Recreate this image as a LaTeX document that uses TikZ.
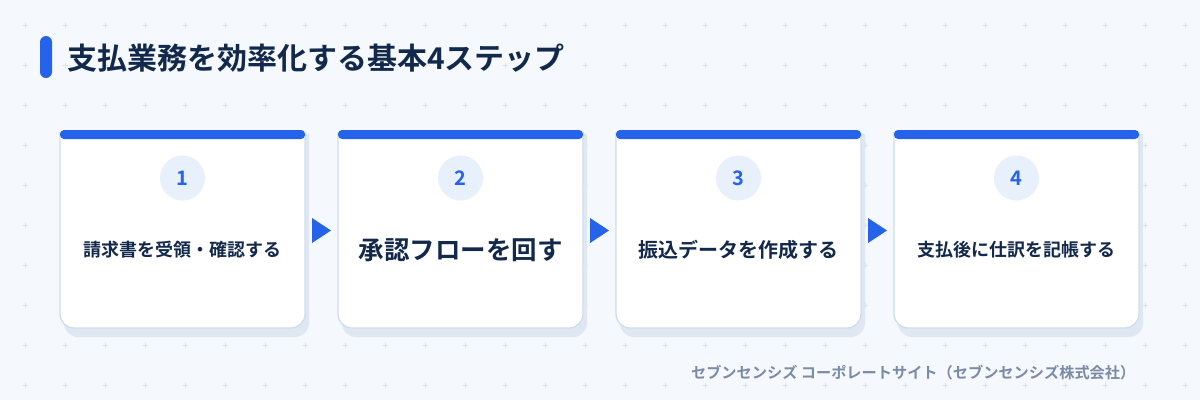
\documentclass[tikz,border=0pt]{standalone}
\usepackage{fontspec}
\setmainfont{Noto Sans CJK JP}[BoldFont={* Bold}]
\usetikzlibrary{calc}
\definecolor{bg}{HTML}{F5F8FD}
\definecolor{accent}{HTML}{2563EB}
\definecolor{ink}{HTML}{13294B}
\definecolor{cardline}{HTML}{CFDCEE}
\definecolor{shadowc}{HTML}{DFE7F3}
\definecolor{badge}{HTML}{E8F0FC}
\definecolor{plusc}{HTML}{DAE2EE}
\definecolor{foot}{HTML}{7B8BA5}
\tikzset{
  cardanchor/.style={draw=none, inner sep=0, minimum width=245pt, minimum height=198pt},
  badgenode/.style={circle, fill=badge, minimum size=45pt, inner sep=0, text=accent, font=\bfseries\fontsize{20}{24}\selectfont},
  cardtext/.style={inner sep=0, text=ink},
  flowarrow/.style={fill=accent},
}
\begin{document}
\begin{tikzpicture}[x=1pt,y=-1pt]
\fill[bg] (0,0) rectangle (1200,400);
\useasboundingbox (0,0) rectangle (1200,400);
% background plus grid
\foreach \i in {0,...,29}{
  \foreach \j in {0,...,9}{
    \draw[plusc, line width=0.9pt] ({25+40*\i-2.5},{25+40*\j}) -- ++(5,0)
      ({25+40*\i},{25+40*\j-2.5}) -- ++(0,5);
  }
}
% title
\fill[accent, rounded corners=6pt] (40,36) rectangle (52,78);
\node[anchor=west, inner sep=0, text=ink, font=\bfseries\fontsize{30}{36}\selectfont] (title) at (67,58) {支払業務を効率化する基本4ステップ};
% cards
\foreach \n/\lab/\fs in {1/請求書を受領・確認する/18, 2/承認フローを回す/25.5, 3/振込データを作成する/20, 4/支払後に仕訳を記帳する/18}{
  \pgfmathsetmacro{\xa}{60+278*(\n-1)}
  \pgfmathsetmacro{\xb}{\xa+245}
  \pgfmathsetmacro{\xc}{\xa+122.5}
  \begin{scope}
    \clip (\xa-5,134) rectangle (\xb+12,345);
    \fill[shadowc, rounded corners=14pt] (\xa+4,110) rectangle (\xb+4,337);
  \end{scope}
  \begin{scope}
    \clip (\xa-5,132) rectangle (\xb+5,340);
    \draw[fill=white, draw=cardline, line width=1.3pt, rounded corners=14pt] (\xa,110) rectangle (\xb,328);
  \end{scope}
  \fill[accent, rounded corners=4pt] (\xa,130) rectangle (\xb,139);
  \node[cardanchor] (card\n) at (\xc,229) {};
  \node[badgenode] (badge\n) at (\xc,178) {\n};
  \node[cardtext, font=\bfseries\fontsize{\fs}{\fs}\selectfont] (label\n) at (\xc,250) {\lab};
}
% arrows between cards
\foreach \a/\b in {1/2,2/3,3/4}{
  \fill[flowarrow] ($(card\a.east)!0.5!(card\b.west)$) ++(-9.5,-11) -- ++(19,12.5) -- ++(-19,12.5) -- cycle;
}
% footer
\node[anchor=east, inner sep=0, text=foot, font=\bfseries\fontsize{15.2}{18}\selectfont] (footer) at (1135.5,373) {セブンセンシズ コーポレートサイト（セブンセンシズ株式会社）};
\end{tikzpicture}
\end{document}
